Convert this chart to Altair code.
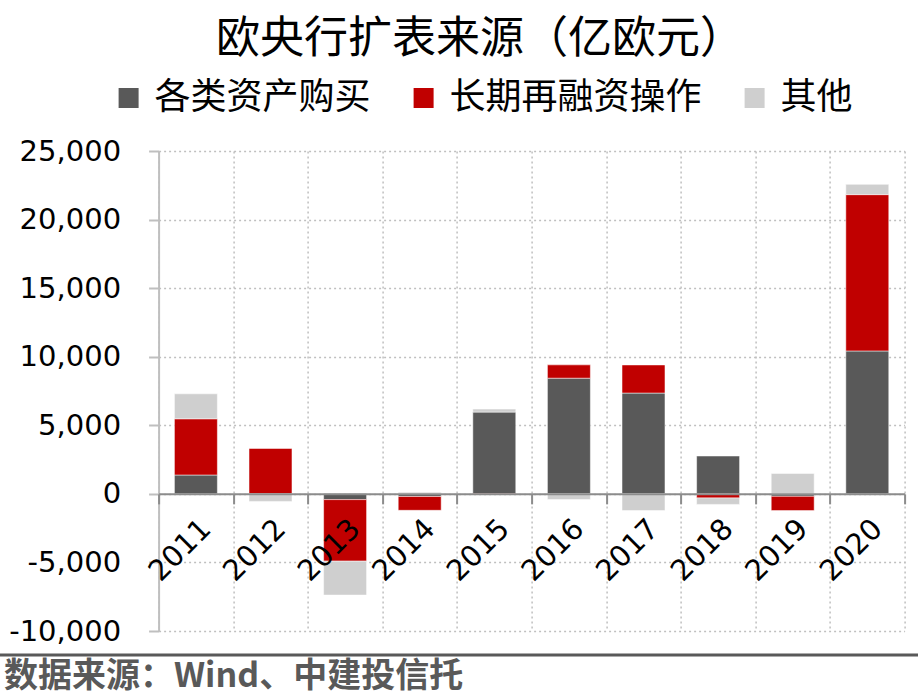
import altair as alt
import pandas as pd

years = ["2011", "2012", "2013", "2014", "2015", "2016", "2017", "2018", "2019", "2020"]
series_names = ["各类资产购买", "长期再融资操作", "其他"]
asset_purchases = [1375, 0, -420, -190, 5960, 8435, 7350, 2760, -180, 10420]
ltro = [4100, 3310, -4490, -1010, -40, 970, 2050, -300, -1040, 11400]
other = [1820, -550, -2470, 120, 220, -420, -1220, -470, 1490, 750]
colors = ["#595959", "#C00000", "#CFCFCF"]
y_ticks = [-10000, -5000, 0, 5000, 10000, 15000, 20000, 25000]
title_text = "欧央行扩表来源（亿欧元）"
source_text = "数据来源：Wind、中建投信托"

rows = []
for i, y in enumerate(years):
    for k, (name, vals) in enumerate(zip(series_names, [asset_purchases, ltro, other])):
        rows.append({"year": y, "series": name, "value": vals[i], "order": k})
df = pd.DataFrame(rows)

W, H = 746, 480
LEFT, TOP = 158.6, 151
YMIN, YMAX = -10000, 25000
zero_from_bottom = H * (0 - YMIN) / (YMAX - YMIN)

bars = alt.Chart(df).mark_bar(
    width=alt.RelativeBandSize(0.576), stroke="white", strokeWidth=1, strokeOpacity=0.5
).encode(
    x=alt.X("year:N", sort=years, title=None,
            scale=alt.Scale(paddingInner=0, paddingOuter=0),
            axis=alt.Axis(labelAngle=-45, labelFont="DejaVu Sans", labelFontSize=29,
                          labelColor="black", labelPadding=10,
                          domainColor="#8C8C8C", domainWidth=2,
                          tickColor="#8C8C8C", tickWidth=2, tickSize=10, tickBand="extent",
                          grid=True, gridColor="#BFBFBF", gridDash=[2, 3], gridWidth=1.5,
                          offset=-zero_from_bottom, zindex=1)),
    y=alt.Y("value:Q", stack="zero", title=None,
            scale=alt.Scale(domain=[YMIN, YMAX], nice=False),
            axis=alt.Axis(values=y_ticks, labelFont="DejaVu Sans", labelFontSize=29,
                          labelColor="black", labelPadding=28,
                          labelExpr="replace(format(datum.value, ',d'), '\u2212', '-')",
                          domainColor="#BFBFBF", domainWidth=2,
                          tickColor="#BFBFBF", tickWidth=2, tickSize=10,
                          grid=True, gridColor="#BFBFBF", gridDash=[2, 3], gridWidth=1.5)),
    color=alt.Color("series:N", sort=series_names, title=None,
                    scale=alt.Scale(domain=series_names, range=colors),
                    legend=alt.Legend(orient="none", legendX=-48, legendY=-71, padding=0,
                                      direction="horizontal", symbolType="square",
                                      symbolSize=400, symbolStrokeWidth=0,
                                      labelFont="Noto Sans CJK SC", labelFontSize=36,
                                      labelColor="black", labelOffset=8, labelLimit=400,
                                      columnPadding=34)),
    order=alt.Order("order:Q"),
)

txt = pd.DataFrame({"title": [title_text], "source": [source_text]})
title_mark = alt.Chart(txt).mark_text(
    align="center", baseline="middle", font="Noto Sans CJK SC", fontSize=44,
    color="black"
).encode(x=alt.value(480 - LEFT), y=alt.value(40 - TOP), text="title:N")

footer_rule = alt.Chart(txt).mark_rule(color="#595959", strokeWidth=3).encode(
    x=alt.value(-LEFT), x2=alt.value(918 - LEFT), y=alt.value(655 - TOP)
)
footer_text = alt.Chart(txt).mark_text(
    align="left", baseline="middle", font="Noto Sans CJK SC", fontSize=34,
    fontWeight="bold", color="#595959"
).encode(x=alt.value(4 - LEFT), y=alt.value(677 - TOP), text="source:N")

chart = alt.layer(bars, title_mark, footer_rule, footer_text).properties(
    width=W, height=H,
    autosize=alt.AutoSizeParams(type="none"),
    padding={"left": LEFT, "top": TOP, "right": 918 - LEFT - W, "bottom": 697 - TOP - H},
).configure_view(strokeWidth=0)

chart.save("out.html", embed_options={"renderer": "svg", "actions": False})
